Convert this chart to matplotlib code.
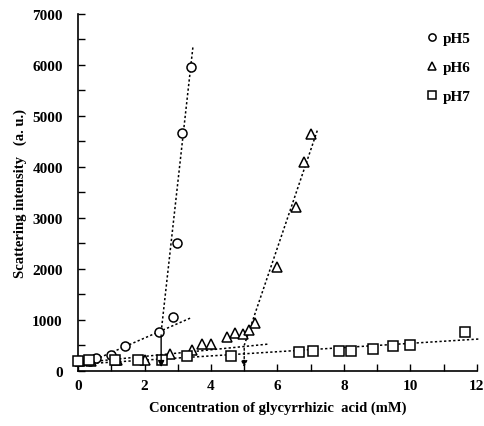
import numpy as np
import matplotlib.pyplot as plt

plt.rcParams['font.family'] = ['Liberation Serif', 'DejaVu Serif']
plt.rcParams['font.weight'] = 'bold'

# measured points (concentration mM, scattering intensity a.u.)
x_ph5 = [0.0, 0.35, 0.55, 1.0, 1.4, 2.45, 2.85, 2.97, 3.14, 3.39]
y_ph5 = [190, 200, 250, 310, 480, 760, 1060, 2510, 4660, 5950]

x_ph6 = [0.05, 0.4, 1.17, 2.02, 2.76, 3.43, 3.73, 4.01, 4.49, 4.71, 4.97, 5.15, 5.32, 6.0, 6.56, 6.8, 7.0]
y_ph6 = [190, 200, 220, 220, 340, 410, 530, 530, 660, 750, 720, 810, 930, 2040, 3220, 4090, 4640]

x_ph7 = [0.0, 0.34, 1.12, 1.81, 2.52, 3.29, 4.6, 6.65, 7.08, 7.86, 8.22, 8.88, 9.48, 9.98, 11.65]
y_ph7 = [200, 210, 220, 220, 220, 300, 300, 365, 395, 395, 385, 430, 480, 500, 760]

# fitted lines, endpoints
fit5_low = ([0.4, 3.42], [190, 1048])
fit5_high = ([2.5, 3.46], [760, 6373])
fit6_low = ([0.0, 5.74], [156, 527])
fit6_high = ([5.0, 7.2], [500, 4713])
fit7 = ([0.0, 12.05], [130, 625])

# critical concentrations (arrows)
cac5 = (2.5, 760)
cac6 = (5.0, 500)

fig = plt.figure(figsize=(4.85, 4.27), dpi=100)
ax = fig.add_axes([0.161, 0.129, 0.822, 0.836])

dot = dict(color='black', lw=1.1, ls=(0, (1.5, 1.5)), clip_on=False)
for fx, fy in [fit5_low, fit5_high, fit6_low, fit6_high, fit7]:
    ax.plot(fx, fy, **dot)

mk = dict(ls='none', mfc='white', mec='black', mew=1.1, ms=6.5, zorder=3, clip_on=False)
ax.plot(x_ph5, y_ph5, marker='o', label='pH5', **mk)
ax.plot(x_ph6, y_ph6, marker='^', label='pH6', **mk)
ax.plot(x_ph7, y_ph7, marker='s', label='pH7', **mk)

ax.annotate('', xy=(cac5[0], 20), xytext=cac5,
            arrowprops=dict(arrowstyle='-|>', color='black', lw=1.0, mutation_scale=9))
ax.annotate('', xy=(cac6[0], 20), xytext=cac6,
            arrowprops=dict(arrowstyle='-|>', color='black', lw=1.0, ls=(0, (1.5, 1.5)), mutation_scale=9))

ax.set_xlim(0, 12)
ax.set_ylim(0, 7000)
ax.set_xticks(np.arange(0, 13, 2))
ax.set_xticks(np.arange(0, 13, 1), minor=True)
ax.set_yticks(np.arange(0, 7001, 1000))
ax.set_yticks(np.arange(0, 7001, 500), minor=True)
ax.tick_params(direction='in', length=5, width=1, labelsize=11)
ax.tick_params(which='minor', direction='in', length=5, width=1)
ax.tick_params(axis='x', pad=6)
ax.tick_params(axis='y', pad=11)
for s in ['top', 'right']:
    ax.spines[s].set_visible(False)
for s in ['left', 'bottom']:
    ax.spines[s].set_linewidth(1.2)
for lab in ax.get_xticklabels() + ax.get_yticklabels():
    lab.set_fontweight('bold')

ax.set_xlabel('Concentration of glycyrrhizic  acid (mM)', fontsize=10.5, fontweight='bold', labelpad=6)
ax.set_ylabel('Scattering intensity   (a. u.)', fontsize=10.5, fontweight='bold', labelpad=4)

leg = ax.legend(loc='upper right', bbox_to_anchor=(1.02, 0.99), frameon=False, fontsize=11,
                handletextpad=0.1, labelspacing=1.0, markerscale=0.8, handlelength=1.2)
for t in leg.get_texts():
    t.set_fontweight('bold')

fig.savefig('out.png', dpi=100)
